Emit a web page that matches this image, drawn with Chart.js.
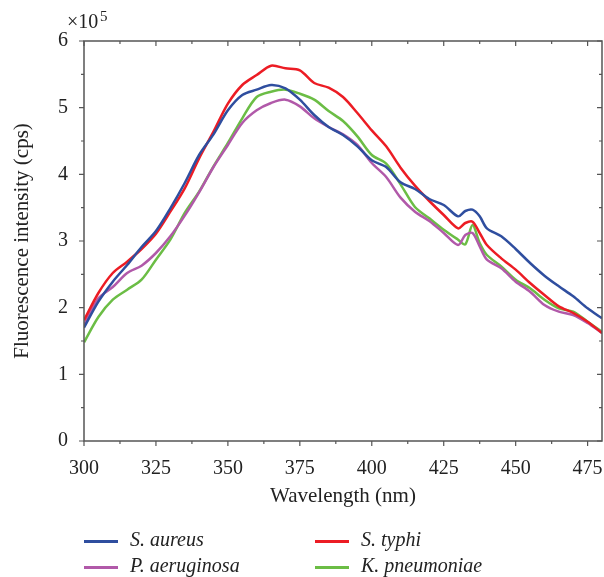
<!DOCTYPE html>
<html lang="en">
<head>
  <meta charset="UTF-8">
  <title>Fluorescence spectra</title>
  <script src="https://cdn.jsdelivr.net/npm/chart.js"></script>
  <style>
    body { margin: 0; background: #fff; }
    .wrap { position: relative; width: 604px; height: 577px; }
    canvas { display: block; }
    .legend { position: absolute; left: 0; top: 0; font-family: 'Liberation Serif', serif; font-style: italic; font-size: 20px; color: #222; }
    .legend .item { position: absolute; white-space: nowrap; line-height: 22px; }
    .legend .swatch { position: absolute; width: 34px; height: 3px; }
  </style>
</head>
<body>
<div class="wrap">
  <canvas id="spectra" width="604" height="577"></canvas>
  <div class="legend" id="legend"></div>
</div>

<script>
const wavelengths = [300,305,310,315,320,325,330,335,340,345,350,355,360,365,370,375,380,385,390,395,400,405,410,415,420,425,430,432.5,435,437.5,440,445,450,455,460,465,470,475,480];
const sAureus = [1.70,2.09,2.39,2.64,2.91,3.15,3.49,3.87,4.29,4.60,4.96,5.19,5.27,5.34,5.29,5.12,4.89,4.71,4.59,4.42,4.21,4.11,3.88,3.78,3.63,3.54,3.37,3.45,3.47,3.37,3.19,3.07,2.88,2.67,2.48,2.32,2.17,1.99,1.84];
const sTyphi = [1.81,2.22,2.52,2.69,2.88,3.11,3.44,3.79,4.24,4.64,5.06,5.34,5.49,5.63,5.59,5.56,5.37,5.30,5.16,4.92,4.66,4.42,4.10,3.83,3.60,3.39,3.19,3.27,3.29,3.12,2.94,2.74,2.57,2.37,2.19,2.02,1.92,1.79,1.62];
const pAeruginosa = [1.74,2.14,2.31,2.52,2.63,2.82,3.07,3.38,3.73,4.11,4.44,4.77,4.96,5.07,5.12,5.02,4.84,4.71,4.60,4.44,4.17,3.96,3.65,3.44,3.30,3.12,2.94,3.09,3.12,2.92,2.72,2.59,2.39,2.24,2.04,1.94,1.89,1.77,1.62];
const kPneumoniae = [1.48,1.86,2.12,2.27,2.42,2.72,3.02,3.42,3.74,4.12,4.47,4.84,5.16,5.24,5.27,5.21,5.12,4.95,4.80,4.57,4.29,4.16,3.85,3.51,3.34,3.17,3.02,2.95,3.24,2.97,2.79,2.62,2.42,2.29,2.12,1.99,1.94,1.79,1.64];
const xTicks = [300,325,350,375,400,425,450,475];
const yTicks = [0,1,2,3,4,5,6];

const series = [
  { label: 'S. aureus', data: sAureus, color: '#2f4e9f' },
  { label: 'S. typhi', data: sTyphi, color: '#ec1c24' },
  { label: 'P. aeruginosa', data: pAeruginosa, color: '#b159a9' },
  { label: 'K. pneumoniae', data: kPneumoniae, color: '#6bbd45' }
];

const serif = "'Liberation Serif', serif";

// frame with ticks on all four sides + the x10^5 multiplier
const framePlugin = {
  id: 'frame',
  afterDraw(chart) {
    const { ctx, chartArea: a, scales: { x, y } } = chart;
    ctx.save();
    ctx.strokeStyle = '#555';
    ctx.lineWidth = 1.5;
    ctx.strokeRect(a.left, a.top, a.right - a.left, a.bottom - a.top);
    ctx.lineWidth = 1.2;
    ctx.beginPath();
    for (let v = 300; v <= 480; v += 12.5) {
      const px = x.getPixelForValue(v);
      const len = (v % 25 === 0) ? 5 : 3;
      ctx.moveTo(px, a.bottom); ctx.lineTo(px, a.bottom + len);
      ctx.moveTo(px, a.top); ctx.lineTo(px, a.top + len);
    }
    for (let v = 0; v <= 6; v += 0.5) {
      const py = y.getPixelForValue(v);
      const len = (v % 1 === 0) ? 5 : 3;
      ctx.moveTo(a.left, py); ctx.lineTo(a.left - len, py);
      ctx.moveTo(a.right, py); ctx.lineTo(a.right - len, py);
    }
    ctx.stroke();
    ctx.fillStyle = '#222';
    ctx.font = '20px ' + serif;
    ctx.textBaseline = 'alphabetic';
    ctx.fillText('×10', 67, 28);
    ctx.font = '15px ' + serif;
    ctx.fillText('5', 100, 21);
    ctx.restore();
  }
};

new Chart(document.getElementById('spectra'), {
  type: 'line',
  data: {
    labels: wavelengths,
    datasets: series.map(s => ({
      label: s.label,
      data: s.data,
      borderColor: s.color,
      backgroundColor: s.color,
      borderWidth: 2.5,
      pointRadius: 0,
      tension: 0.3
    }))
  },
  options: {
    responsive: false,
    animation: false,
    layout: { padding: { top: 41, right: 2, left: 0, bottom: 0 } },
    plugins: { legend: { display: false }, tooltip: { enabled: false } },
    scales: {
      x: {
        type: 'linear', min: 300, max: 480,
        afterBuildTicks: s => { s.ticks = xTicks.map(v => ({ value: v })); },
        afterFit: s => { s.height = 136; s.paddingLeft = 0; s.paddingRight = 0; },
        grid: { display: false }, border: { display: false },
        ticks: { color: '#222', font: { family: serif, size: 20 }, padding: 8, maxRotation: 0 },
        title: { display: true, text: 'Wavelength (nm)', color: '#222', font: { family: serif, size: 21 }, padding: { bottom: 68 } }
      },
      y: {
        min: 0, max: 6,
        afterBuildTicks: s => { s.ticks = yTicks.map(v => ({ value: v })); },
        afterFit: s => { s.width = 84; },
        grid: { display: false }, border: { display: false },
        ticks: { color: '#222', font: { family: serif, size: 20 }, padding: 8 },
        title: { display: true, text: 'Fluorescence intensity (cps)', color: '#222', font: { family: serif, size: 21 }, padding: { top: 10 } }
      }
    }
  },
  plugins: [framePlugin]
});

// legend in two columns under the chart
const legendPos = [
  { i: 0, x: 84, y: 541 },
  { i: 2, x: 84, y: 567 },
  { i: 1, x: 315, y: 541 },
  { i: 3, x: 315, y: 567 }
];
const legend = document.getElementById('legend');
legendPos.forEach(p => {
  const s = series[p.i];
  const sw = document.createElement('div');
  sw.className = 'swatch';
  sw.style.left = p.x + 'px';
  sw.style.top = (p.y - 1) + 'px';
  sw.style.background = s.color;
  const t = document.createElement('div');
  t.className = 'item';
  t.style.left = (p.x + 46) + 'px';
  t.style.top = (p.y - 13) + 'px';
  t.textContent = s.label;
  legend.appendChild(sw);
  legend.appendChild(t);
});
</script>
</body>
</html>
